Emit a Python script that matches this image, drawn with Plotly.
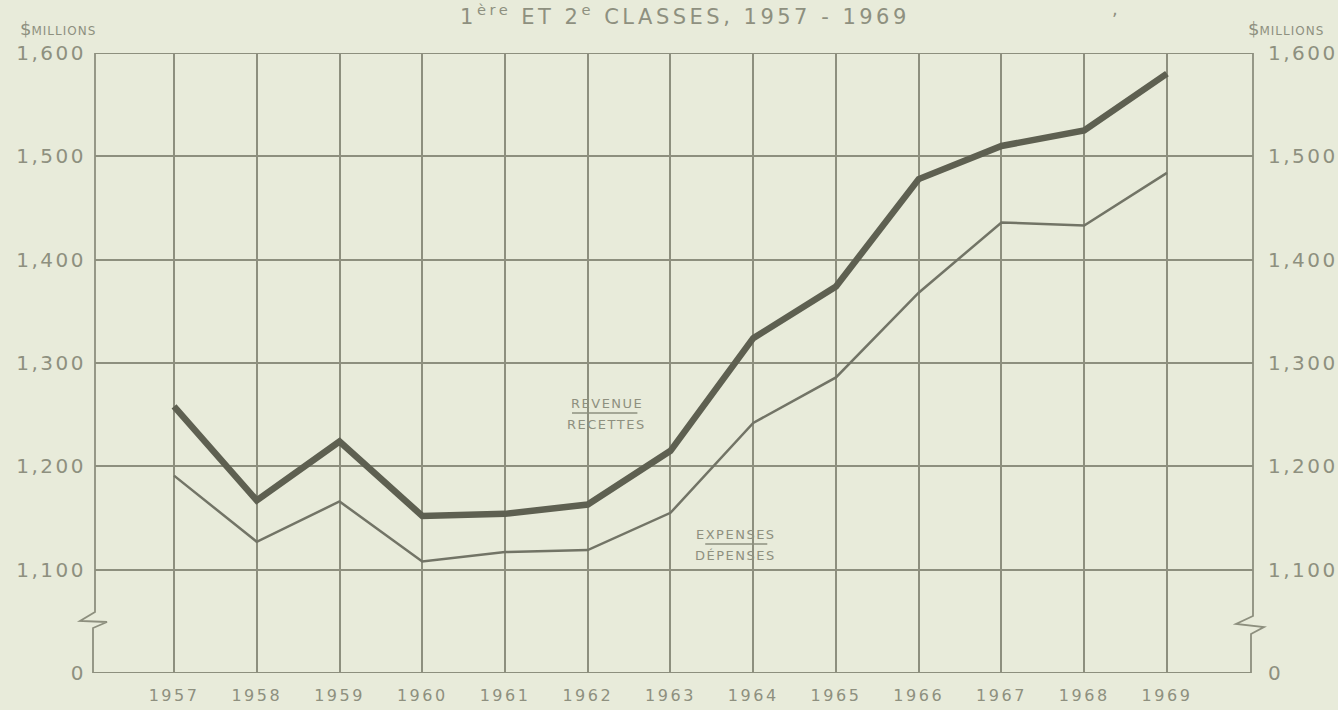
import plotly.graph_objects as go

# ---- data ----
years = [1957, 1958, 1959, 1960, 1961, 1962, 1963, 1964, 1965, 1966, 1967, 1968, 1969]
revenue = [1258, 1167, 1224, 1152, 1154, 1163, 1215, 1324, 1374, 1478, 1510, 1525, 1580]
expenses = [1191, 1127, 1166, 1108, 1117, 1119, 1155, 1242, 1286, 1368, 1436, 1433, 1484]
ytick_vals = [1000, 1100, 1200, 1300, 1400, 1500, 1600]
ytick_labels = ["0", "1,100", "1,200", "1,300", "1,400", "1,500", "1,600"]
xtick_labels = [str(y) for y in years]

BG = "#e8ebda"
GRID = "#8d8f7e"
TXT = "#8e907f"
THICK = "#5e6051"
THIN = "#727466"
FONT = "DejaVu Sans"

W, H = 1338, 710
L, R, T, B = 95, 85, 53, 37
PW, PH = W - L - R, H - T - B


def px_x(p):
    return (p - L) / PW


def px_y(p):
    return (H - B - p) / PH


def ypx_to_val(p):
    return 1000 + (H - B - p) / PH * 600


def spaced(s, sp):
    return f"<span style='letter-spacing:{sp}px'>{s}</span>"


ytick_text = [spaced(t, 2.5) for t in ytick_labels]
xtick_text = [spaced(t, 2.5) for t in xtick_labels]

fig = go.Figure()
fig.add_trace(go.Scatter(x=years, y=revenue, mode="lines",
                         line=dict(color=THICK, width=6.5), name="Revenue",
                         showlegend=False))
fig.add_trace(go.Scatter(x=years, y=expenses, mode="lines",
                         line=dict(color=THIN, width=2.5), name="Expenses",
                         showlegend=False, yaxis="y2"))

axis_font = dict(family=FONT, size=20, color=TXT)
fig.update_layout(
    width=W, height=H, autosize=False,
    margin=dict(l=L, r=R, t=T, b=B, pad=0),
    paper_bgcolor=BG, plot_bgcolor=BG,
    xaxis=dict(range=[1956.045, 1970.04], tickvals=years, ticktext=xtick_text,
               showgrid=True, gridcolor=GRID, gridwidth=1.5, zeroline=False,
               showline=False, ticks="outside", ticklen=8, tickcolor="rgba(0,0,0,0)",
               tickfont=dict(family=FONT, size=16, color=TXT), fixedrange=True,
               automargin=False),
    yaxis=dict(range=[1000, 1600], tickvals=ytick_vals, ticktext=ytick_text,
               showgrid=True, gridcolor=GRID, gridwidth=1.5, zeroline=False,
               showline=False, ticks="outside", ticklen=4, tickcolor="rgba(0,0,0,0)",
               tickfont=axis_font, fixedrange=True, automargin=False),
    yaxis2=dict(range=[1000, 1600], tickvals=ytick_vals, ticktext=ytick_text,
                overlaying="y", side="right", showgrid=False, zeroline=False,
                showline=False, ticks="outside", ticklen=10, tickcolor="rgba(0,0,0,0)",
                tickfont=axis_font, fixedrange=True, automargin=False),
    showlegend=False,
)

line_style = dict(color=GRID, width=1.8)
shapes = []
shapes.append(dict(type="line", xref="paper", yref="y", x0=0, x1=1, y0=1600, y1=1600, line=line_style))
shapes.append(dict(type="line", xref="paper", yref="y", x0=px_x(93), x1=px_x(1251),
                   y0=1000, y1=1000, line=dict(color=GRID, width=2.2)))
# left axis with break
lx = [px_x(95), px_x(95), px_x(80), px_x(107), px_x(93), px_x(93)]
ly = [1600, ypx_to_val(612), ypx_to_val(621), ypx_to_val(622), ypx_to_val(628), 1000]
path = "M " + " L ".join(f"{a},{b}" for a, b in zip(lx, ly))
shapes.append(dict(type="path", xref="paper", yref="y", path=path, line=line_style))
# right axis with break
rx = [px_x(1253), px_x(1253), px_x(1236), px_x(1264), px_x(1251), px_x(1251)]
ry = [1600, ypx_to_val(616), ypx_to_val(624), ypx_to_val(627), ypx_to_val(634), 1000]
path = "M " + " L ".join(f"{a},{b}" for a, b in zip(rx, ry))
shapes.append(dict(type="path", xref="paper", yref="y", path=path, line=line_style))
# label underlines
shapes.append(dict(type="line", xref="x", yref="y", x0=1961.81, x1=1962.60,
                   y0=ypx_to_val(413), y1=ypx_to_val(413), line=dict(color=TXT, width=1.5)))
shapes.append(dict(type="line", xref="x", yref="y", x0=1963.42, x1=1964.17,
                   y0=ypx_to_val(544), y1=ypx_to_val(544), line=dict(color=TXT, width=1.5)))
fig.update_layout(shapes=shapes)

ann = []
lab_font = dict(family=FONT, size=13, color=TXT)
ann.append(dict(x=1962.23, y=ypx_to_val(403), xref="x", yref="y", text=spaced("REVENUE", 1.5),
                showarrow=False, font=lab_font))
ann.append(dict(x=1962.23, y=ypx_to_val(424), xref="x", yref="y", text=spaced("RECETTES", 1.5),
                showarrow=False, font=lab_font))
ann.append(dict(x=1963.79, y=ypx_to_val(534), xref="x", yref="y", text=spaced("EXPENSES", 1.5),
                showarrow=False, font=lab_font))
ann.append(dict(x=1963.79, y=ypx_to_val(555), xref="x", yref="y", text=spaced("DÉPENSES", 1.5),
                showarrow=False, font=lab_font))
# title
ann.append(dict(x=px_x(685), y=px_y(15), xref="paper", yref="paper",
                text="<span style='letter-spacing:3.5px'>1<sup>ère</sup> ET 2<sup>e</sup> CLASSES, 1957 - 1969</span>",
                showarrow=False, font=dict(family=FONT, size=21, color=TXT),
                xanchor="center", yanchor="middle"))
ann.append(dict(x=px_x(1115), y=px_y(8), xref="paper", yref="paper", text=",",
                showarrow=False, font=dict(family=FONT, size=18, color=TXT),
                xanchor="center", yanchor="middle"))
# units
units = "<span style='font-size:18px'>$</span><span style='letter-spacing:1px'>MILLIONS</span>"
ann.append(dict(x=px_x(98), y=px_y(28), xref="paper", yref="paper", text=units,
                showarrow=False, font=dict(family=FONT, size=12, color=TXT),
                xanchor="right", yanchor="middle"))
ann.append(dict(x=px_x(1246), y=px_y(28), xref="paper", yref="paper", text=units,
                showarrow=False, font=dict(family=FONT, size=12, color=TXT),
                xanchor="left", yanchor="middle"))
fig.update_layout(annotations=ann)

fig.write_html("out.html", config={"displayModeBar": False, "responsive": False},
               post_script="document.body.style.margin='0px';document.body.style.overflow='hidden';")
